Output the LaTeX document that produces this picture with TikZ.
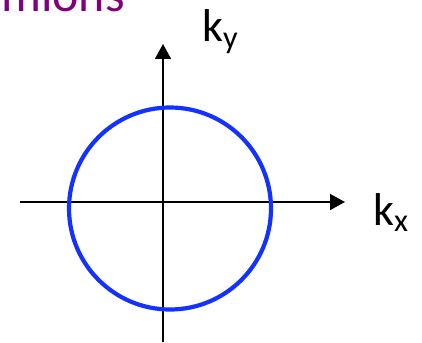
\documentclass[tikz,border=0pt]{standalone}
\usepackage{fontspec}
\setmainfont{Carlito}
\usetikzlibrary{arrows.meta,positioning}
\definecolor{myPurple}{RGB}{128,0,128}
\definecolor{myBlue}{RGB}{20,50,255}
\tikzset{
myAxis/.style={
	-{Triangle[length=15pt,width=16pt]},
	line width=1.6pt, black
}
, myCircle/.style={draw=myBlue,line width=4.2pt}
, myLabel/.style={
	inner sep=0pt, text=black,
	font=\fontsize{46}{50}\selectfont
}
, myTitle/.style={
	inner sep=0pt, text=myPurple,
	font=\fontsize{50}{54}\selectfont
}
}
\begin{document}
\begin{tikzpicture}[x=1pt,y=-1pt]
	\useasboundingbox (0,0) rectangle (422,342);
	\clip (0,0) rectangle (422,342);
	% nodes
	\coordinate (O) at (163,202);
	\coordinate (Left) at (20,202);
	\coordinate (Right) at (345,202);
	\coordinate (Bottom) at (163,342);
	\coordinate (Top) at (163,44);
	\node[myTitle,anchor=base east] (Title) at (125,12) {Fermions};
	\node[myLabel,anchor=base west] (Kx) at (373,225) {k\textsubscript{x}};
	\node[myLabel,anchor=base west] (Ky) at (202,42) {k\textsubscript{y}};
	% axes
	\draw [myAxis] (Left) -- (Right);
	\draw [myAxis] (Bottom) -- (Top);
	% circle
	\draw [myCircle] (170,208.5) circle (101);
\end{tikzpicture}
\end{document}
